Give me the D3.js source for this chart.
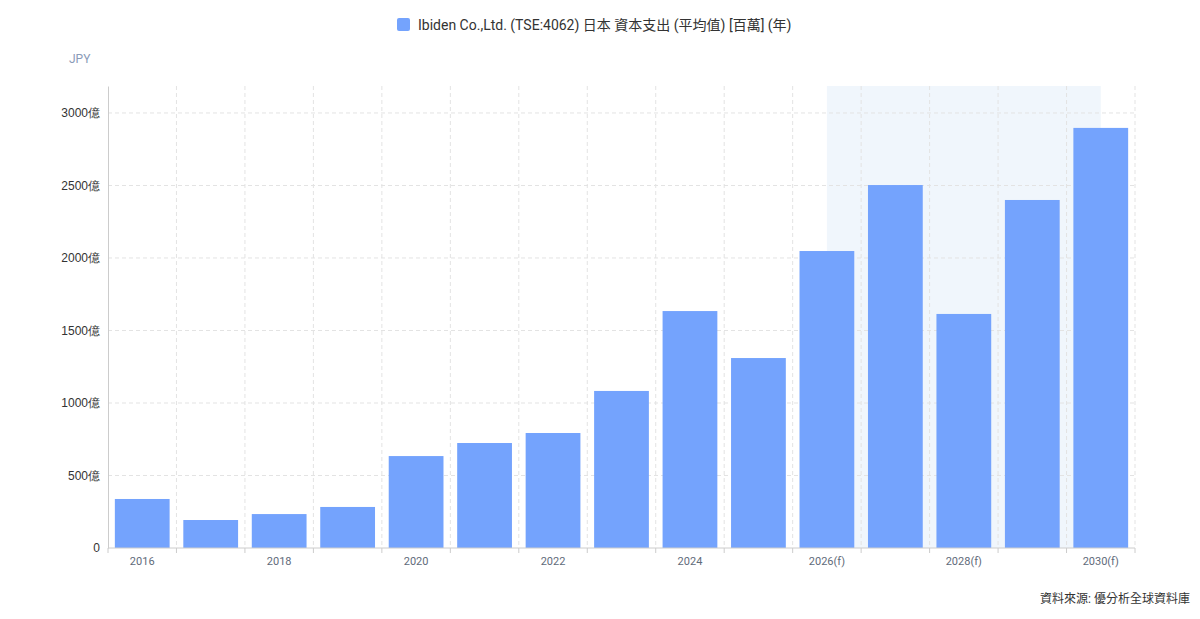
<!DOCTYPE html>
<html>
<head>
<meta charset="utf-8">
<script src="https://cdn.jsdelivr.net/npm/d3@7"></script>
<style>
  body { margin: 0; background: #fff; }
  svg { font-family: Roboto, "Noto Sans CJK TC", sans-serif; }
</style>
</head>
<body>
<div id="chart"></div>
<script>
// Data (values in 億 JPY)
const years = ['2016', '2017', '2018', '2019', '2020', '2021', '2022', '2023', '2024', '2025',
    '2026(f)', '2027(f)', '2028(f)', '2029(f)', '2030(f)'];
const capex = [338, 193, 234, 283, 634, 724, 793, 1083, 1634, 1310, 2048, 2503, 1614, 2400, 2897];
const yTicks = [0, 500, 1000, 1500, 2000, 2500, 3000];
const forecastFrom = '2026(f)';
const forecastTo = '2030(f)';

const W = 1200, H = 619;
const margin = { top: 86, right: 65, bottom: 71, left: 108 };
const width = W - margin.left - margin.right;
const height = H - margin.top - margin.bottom;

const svg = d3.select('#chart').append('svg')
    .attr('width', W)
    .attr('height', H);

const g = svg.append('g')
    .attr('transform', `translate(${margin.left}, ${margin.top})`);

const xScale = d3.scaleBand()
    .domain(years)
    .range([0, width])
    .paddingInner(0.2)
    .paddingOuter(0.1);
const xBand = d3.scaleBand().domain(years).range([0, width]);

const yScale = d3.scaleLinear()
    .domain([0, 3186])
    .range([height, 0]);

// forecast shading
g.append('rect')
    .attr('x', xBand(forecastFrom) + xBand.bandwidth() / 2)
    .attr('y', 0)
    .attr('width', xBand(forecastTo) - xBand(forecastFrom))
    .attr('height', height)
    .attr('fill', '#f0f6fc');

// grid
g.append('g').selectAll('line.h')
    .data(yTicks.filter(d => d > 0))
    .join('line')
    .attr('x1', 0).attr('x2', width)
    .attr('y1', d => yScale(d)).attr('y2', d => yScale(d))
    .attr('stroke', '#e3e3e3')
    .attr('stroke-dasharray', '4,3');

g.append('g').selectAll('line.v')
    .data(years.slice(1).concat(['end']))
    .join('line')
    .attr('x1', d => d === 'end' ? width : xBand(d))
    .attr('x2', d => d === 'end' ? width : xBand(d))
    .attr('y1', 0).attr('y2', height)
    .attr('stroke', '#e3e3e3')
    .attr('stroke-dasharray', '4,3');

// bars
g.selectAll('rect.bar')
    .data(years.map((y, i) => ({ year: y, value: capex[i] })))
    .join('rect')
    .attr('class', 'bar')
    .attr('x', d => xScale(d.year))
    .attr('y', d => yScale(d.value))
    .attr('width', xScale.bandwidth())
    .attr('height', d => height - yScale(d.value))
    .attr('fill', '#74a3fd');

// axes
const yAxis = d3.axisLeft(yScale)
    .tickValues(yTicks)
    .tickSize(0)
    .tickPadding(8)
    .tickFormat(d => d === 0 ? '0' : d + '億');
g.append('g')
    .call(yAxis)
    .call(a => a.select('.domain').attr('stroke', '#ccc'))
    .call(a => a.selectAll('text').attr('fill', '#333').attr('font-size', 12));

const xAxis = g.append('g')
    .attr('transform', `translate(0, ${height})`);
xAxis.append('line')
    .attr('x1', 0).attr('x2', width)
    .attr('stroke', '#ccc');
xAxis.selectAll('line.tick')
    .data(years.concat(['end']))
    .join('line')
    .attr('x1', d => d === 'end' ? width : xBand(d))
    .attr('x2', d => d === 'end' ? width : xBand(d))
    .attr('y1', 0).attr('y2', 5)
    .attr('stroke', '#ccc');
xAxis.selectAll('text')
    .data(years.filter((d, i) => i % 2 === 0))
    .join('text')
    .attr('x', d => xBand(d) + xBand.bandwidth() / 2)
    .attr('y', 17)
    .attr('text-anchor', 'middle')
    .attr('font-size', 11)
    .attr('fill', '#5f6b7a')
    .text(d => d);

// unit label
svg.append('text')
    .attr('x', 69).attr('y', 63)
    .attr('font-size', 12)
    .attr('fill', '#8a9bb8')
    .text('JPY');

// legend
const legend = svg.append('g').attr('transform', 'translate(397, 18)');
legend.append('rect')
    .attr('width', 13).attr('height', 13).attr('rx', 2)
    .attr('fill', '#74a3fd');
legend.append('text')
    .attr('x', 21).attr('y', 12)
    .attr('font-size', 14)
    .attr('fill', '#333')
    .text('Ibiden Co.,Ltd. (TSE:4062) 日本 資本支出 (平均值) [百萬] (年)');

// source
svg.append('text')
    .attr('x', 1190).attr('y', 603)
    .attr('text-anchor', 'end')
    .attr('font-size', 12)
    .attr('fill', '#333')
    .text('資料來源: 優分析全球資料庫');
</script>
</body>
</html>
